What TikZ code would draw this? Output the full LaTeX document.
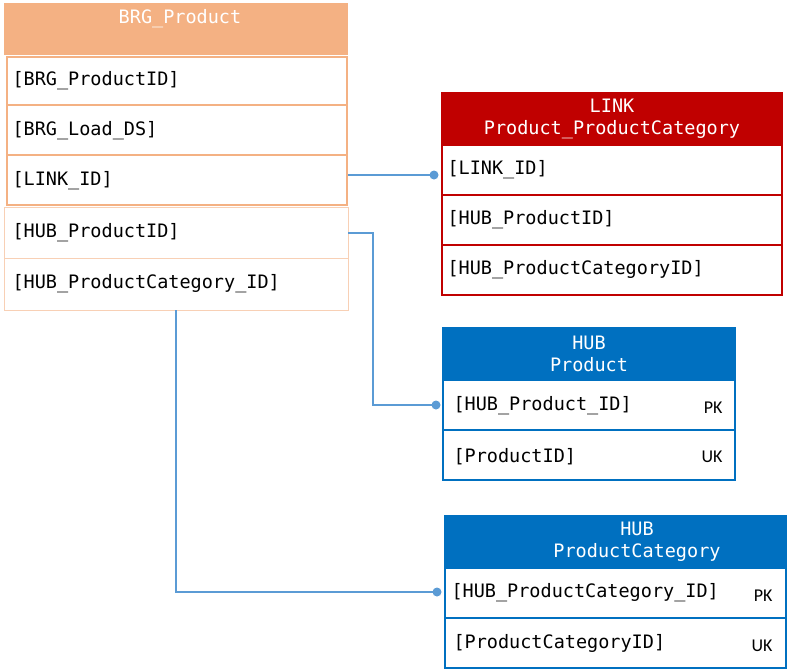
\documentclass[tikz,border=0pt]{standalone}
\usepackage{fontspec}
\setmainfont{Carlito}
\newfontfamily\monof{DejaVu Sans Mono}
\begin{document}
\begin{tikzpicture}[x=1pt,y=-1pt]
\definecolor{peach}{HTML}{F4B183}
\definecolor{dred}{HTML}{C00000}
\definecolor{dblue}{HTML}{0070C0}
\definecolor{lnk}{HTML}{5B9BD5}
\tikzset{
 ht/.style={text=white,align=center,font=\monof\fontsize{18.5}{24}\selectfont},
 row/.style={draw=#1,line width=1.2pt,fill=white},
 rt/.style={anchor=west,font=\monof\fontsize{18.5}{22}\selectfont},
 kt/.style={anchor=east,font=\fontsize{18}{22}\selectfont},
 con/.style={draw=lnk,line width=1.2pt},
 dot/.style={circle,fill=lnk,inner sep=0pt,minimum size=9pt}
}
\useasboundingbox (0,0) rectangle (789,670);
% BRG
\fill[peach] (4,3) rectangle (348,55);
\node[ht] (brgh) at (180,19) {BRG\_Product};
\draw[row=peach] (7,57) rectangle (347,105);
\draw[row=peach] (7,105) rectangle (347,155);
\draw[row=peach] (7,155) rectangle (347,205);
\draw[draw=peach!60,line width=0.8pt,fill=white] (4,207) rectangle (348,258);
\draw[draw=peach!60,line width=0.8pt] (4,258) rectangle (348,310);
\node[rt] (b1) at (9,81) {[BRG\_ProductID]};
\node[rt] (b2) at (9,131) {[BRG\_Load\_DS]};
\node[rt] (b3) at (9,181) {[LINK\_ID]};
\node[rt] (b4) at (9,233) {[HUB\_ProductID]};
\node[rt] (b5) at (9,284) {[HUB\_ProductCategory\_ID]};
% LINK
\fill[dred] (441,92) rectangle (783,145);
\node[ht] (lh) at (612,119) {LINK\\[-2pt]Product\_ProductCategory};
\draw[row=dred] (442,145) rectangle (782,195);
\draw[row=dred] (442,195) rectangle (782,245);
\draw[row=dred] (442,245) rectangle (782,295);
\node[rt] (l1) at (444,170) {[LINK\_ID]};
\node[rt] (l2) at (444,220) {[HUB\_ProductID]};
\node[rt] (l3) at (444,270) {[HUB\_ProductCategoryID]};
% HUB Product
\fill[dblue] (442,327) rectangle (736,380);
\node[ht] (hph) at (589,354) {HUB\\[-2pt]Product};
\draw[row=dblue] (443,380) rectangle (735,430);
\draw[row=dblue] (443,430) rectangle (735,480);
\node[rt] (p1) at (450,406) {[HUB\_Product\_ID]};
\node[kt] (pk1) at (726,408) {PK};
\node[rt] (p2) at (450,457) {[ProductID]};
\node[kt] (uk1) at (726,457) {UK};
% HUB ProductCategory
\fill[dblue] (444,515) rectangle (787,568);
\node[ht] (hch) at (637,542) {HUB\\[-2pt]ProductCategory};
\draw[row=dblue] (445,568) rectangle (786,618);
\draw[row=dblue] (445,618) rectangle (786,668);
\node[rt] (c1) at (448,593) {[HUB\_ProductCategory\_ID]};
\node[kt] (pk2) at (776,596) {PK};
\node[kt] (uk2) at (776,646) {UK};
\node[rt] (c2) at (450,643) {[ProductCategoryID]};
% connectors
\coordinate (s1) at (348,175); \node[dot] (d1) at (434,175) {};
\coordinate (s2) at (348,233); \node[dot] (d2) at (436,405) {};
\coordinate (s3) at (176,310); \node[dot] (d3) at (437,592) {};
\draw[con] (s1) -- (d1.center);
\draw[con] (s2) -- (373,233) -- (373,405) -- (d2.center);
\draw[con] (s3) -- (176,592) -- (d3.center);
\end{tikzpicture}
\end{document}
